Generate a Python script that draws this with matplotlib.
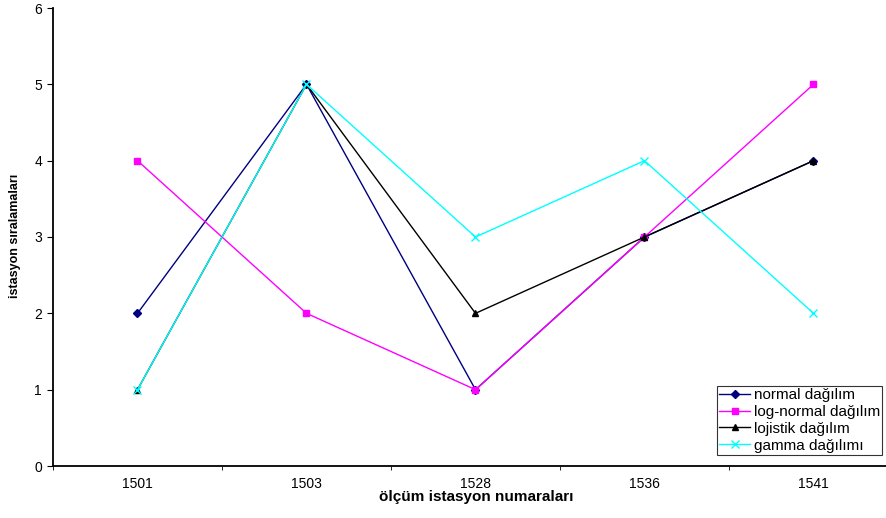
import matplotlib
matplotlib.use('Agg')
import matplotlib.pyplot as plt

# station ids and rankings
stations = ['1501', '1503', '1528', '1536', '1541']
normal = [2, 5, 1, 3, 4]
lognormal = [4, 2, 1, 3, 5]
lojistik = [1, 5, 2, 3, 4]
gamma = [1, 5, 3, 4, 2]

plt.rcParams['font.family'] = ['Liberation Sans', 'DejaVu Sans']

W, H = 887, 518
fig = plt.figure(figsize=(W / 100, H / 100), dpi=100)
# axes run past the right edge, like the cropped original
left, bottom, right, top = 53, 466, 898, 8
ax = fig.add_axes([left / W, 1 - bottom / H, (right - left) / W, (bottom - top) / H])

x = range(len(stations))
ax.plot(x, normal, color='#000080', marker='D', markersize=4, lw=1, label='normal dağılım')
ax.plot(x, lognormal, color='#FF00FF', marker='s', markersize=5, lw=1, label='log-normal dağılım')
ax.plot(x, lojistik, color='black', marker='^', markersize=5, lw=1, label='lojistik dağılım')
ax.plot(x, gamma, color='#00FFFF', marker='x', markersize=6, mew=1, lw=1, label='gamma dağılımı')

ax.set_xlim(-0.5, len(stations) - 0.5)
ax.set_ylim(0, 6)
ax.set_xticks(list(x))
ax.set_xticklabels(stations)
ax.set_xticks([i - 0.5 for i in range(len(stations) + 1)], minor=True)
ax.tick_params(axis='x', which='major', length=0, pad=8, labelsize=10)
ax.tick_params(axis='x', which='minor', length=3, direction='out')
ax.tick_params(axis='y', length=4, labelsize=10, pad=4)

for s in ['top', 'right']:
    ax.spines[s].set_visible(False)
ax.spines['left'].set_linewidth(1.3)
ax.spines['bottom'].set_linewidth(1.3)

xl = ax.set_xlabel('ölçüm istasyon numaraları', fontsize=11, fontweight='bold')
xl.set_va('center')
ax.xaxis.set_label_coords((476 - left) / (right - left), -(497 - bottom) / (bottom - top))
# the original y title is squeezed, so a smaller size keeps its length
yl = ax.set_ylabel('istasyon sıralamaları', fontsize=9, fontweight='bold')
yl.set_va('center')
ax.yaxis.set_label_coords(-(left - 15) / (right - left), (bottom - 236) / (bottom - top))

leg = ax.legend(loc='upper left', bbox_to_anchor=(717 / W, 1 - 386 / H),
                bbox_transform=fig.transFigure, fontsize=11, frameon=True,
                fancybox=False, edgecolor='black', borderpad=0.15,
                labelspacing=0.18, handlelength=2.0, handletextpad=0.25,
                borderaxespad=0)
leg.get_frame().set_linewidth(0.8)

fig.savefig('out.png', dpi=100)
